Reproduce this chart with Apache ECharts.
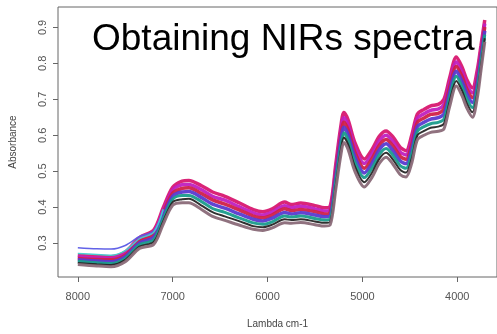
<!DOCTYPE html>
<html>
<head>
<meta charset="utf-8">
<script src="https://cdn.jsdelivr.net/npm/echarts@6/dist/echarts.min.js"></script>
<style>
html, body { margin: 0; padding: 0; background: #fff; }
#chart { width: 497px; height: 334px; }
</style>
</head>
<body>
<div id="chart"></div>
<script>
// wavenumbers (cm-1) shared by all spectra
const lambda = [8000, 7800, 7650, 7500, 7350, 7200, 7100, 7000, 6900, 6830, 6700, 6580, 6450, 6300, 6150, 6050, 5950, 5820, 5750, 5650, 5500, 5400, 5340, 5280, 5230, 5195, 5150, 5080, 4980, 4900, 4820, 4750, 4680, 4600, 4540, 4480, 4420, 4350, 4280, 4200, 4140, 4080, 4010, 3950, 3900, 3840, 3790, 3750, 3710];

// absorbance spectra, top of the band to the bottom
const spec1 = [.266, .263, .262, .275, .315, .336, .398, .455, .472, .474, .460, .442, .430, .412, .393, .387, .395, .414, .407, .411, .404, .398, .402, .520, .620, .663, .642, .580, .534, .560, .598, .612, .596, .566, .557, .600, .659, .672, .682, .686, .700, .760, .818, .790, .755, .732, .780, .850, .921];
const spec2 = [.262, .258, .257, .270, .310, .329, .390, .447, .462, .463, .449, .430, .419, .401, .384, .378, .386, .404, .398, .402, .395, .389, .393, .508, .606, .649, .628, .566, .521, .547, .585, .600, .583, .553, .545, .587, .647, .660, .669, .673, .686, .746, .804, .776, .742, .718, .767, .838, .911];
const spec3 = [.257, .254, .253, .266, .305, .323, .383, .439, .452, .454, .438, .420, .408, .392, .375, .370, .378, .395, .390, .393, .387, .381, .385, .497, .594, .636, .615, .554, .508, .534, .573, .588, .571, .541, .533, .574, .636, .648, .658, .661, .673, .734, .791, .764, .729, .705, .754, .827, .901];
const spec4 = [.253, .250, .248, .262, .300, .316, .375, .430, .442, .443, .427, .408, .397, .381, .366, .361, .369, .385, .381, .384, .378, .373, .376, .485, .580, .622, .601, .540, .495, .521, .560, .576, .558, .528, .521, .561, .624, .636, .645, .649, .659, .720, .778, .750, .716, .691, .741, .815, .891];
const spec5 = [.249, .245, .243, .257, .295, .309, .367, .422, .432, .432, .416, .396, .385, .370, .356, .352, .359, .375, .372, .375, .368, .364, .367, .473, .566, .607, .587, .526, .482, .508, .547, .563, .545, .515, .508, .548, .611, .624, .632, .636, .645, .706, .764, .736, .702, .677, .728, .803, .880];
const spec6 = [.244, .241, .239, .253, .290, .303, .360, .414, .422, .423, .405, .386, .374, .361, .347, .344, .351, .366, .364, .366, .360, .356, .359, .462, .554, .594, .574, .514, .469, .495, .535, .551, .533, .503, .496, .535, .600, .612, .621, .624, .632, .694, .751, .724, .689, .664, .715, .792, .870];
const spec7 = [.240, .236, .234, .248, .285, .296, .352, .405, .412, .412, .394, .374, .363, .350, .338, .335, .342, .356, .355, .357, .351, .347, .350, .450, .540, .580, .560, .500, .456, .482, .522, .539, .520, .490, .484, .522, .588, .600, .608, .611, .618, .680, .737, .710, .676, .650, .702, .780, .860];
// outlying spectra at the high-wavenumber start, merging into the band
const specHigh = [.287, .284, .283, .293, .318, .334, .392];
const specCyan = [.271, .268, .266, .279, .312, .330, .394];

const spectra = [spec1, spec2, spec3, spec4, spec5, spec6, spec7, specHigh, specCyan];
const colors = ['#d81870', '#c020c0', '#d02048', '#5a3ad0', '#1a9c8c', '#262626', '#8a6a78', '#5a5ae6', '#40d0d0'];
const widths = [3.5, 3.5, 3.5, 3.5, 3, 2, 3, 1.5, 1.5];

const xTicks = [4000, 5000, 6000, 7000, 8000];
const yTicks = [0.3, 0.4, 0.5, 0.6, 0.7, 0.8, 0.9];

const chart = echarts.init(document.getElementById('chart'));

const series = spectra.map((s, i) => ({
  type: 'line',
  data: s.map((v, j) => [lambda[j], v]),
  showSymbol: false,
  smooth: 0.3,
  lineStyle: { width: widths[i], color: colors[i], opacity: 0.95 },
  z: i > 6 ? 3 : 2
}));

chart.setOption({
  animation: false,
  title: {
    text: 'Obtaining NIRs spectra',
    left: 92,
    top: 21,
    padding: 0,
    textStyle: { fontSize: 37, fontWeight: 'normal', color: '#000', fontFamily: 'Liberation Sans' }
  },
  grid: { left: 58, top: 7, right: -3, bottom: 55, show: true, borderColor: '#666', borderWidth: 1 },
  xAxis: {
    type: 'value',
    inverse: true,
    min: 3581,
    max: 8209,
    name: 'Lambda cm-1',
    nameLocation: 'middle',
    nameGap: 42,
    nameTextStyle: { fontSize: 10, color: '#444', fontFamily: 'Liberation Sans' },
    axisLine: { show: false },
    axisTick: { show: true, customValues: xTicks, length: 5, lineStyle: { color: '#666' } },
    axisLabel: { customValues: xTicks, fontSize: 11, color: '#555', margin: 14, fontFamily: 'Liberation Sans', formatter: v => String(v) },
    splitLine: { show: false }
  },
  yAxis: {
    type: 'value',
    min: 0.2053,
    max: 0.957,
    name: 'Absorbance',
    nameLocation: 'middle',
    nameGap: 40,
    nameTextStyle: { fontSize: 10, color: '#444', fontFamily: 'Liberation Sans' },
    axisLine: { show: false },
    axisTick: { show: true, customValues: yTicks, length: 5, lineStyle: { color: '#666' } },
    axisLabel: {
      customValues: yTicks,
      rotate: 90,
      fontSize: 11,
      color: '#555',
      margin: 10,
      fontFamily: 'Liberation Sans',
      formatter: v => v.toFixed(1)
    },
    splitLine: { show: false }
  },
  series: series
});
</script>
</body>
</html>
